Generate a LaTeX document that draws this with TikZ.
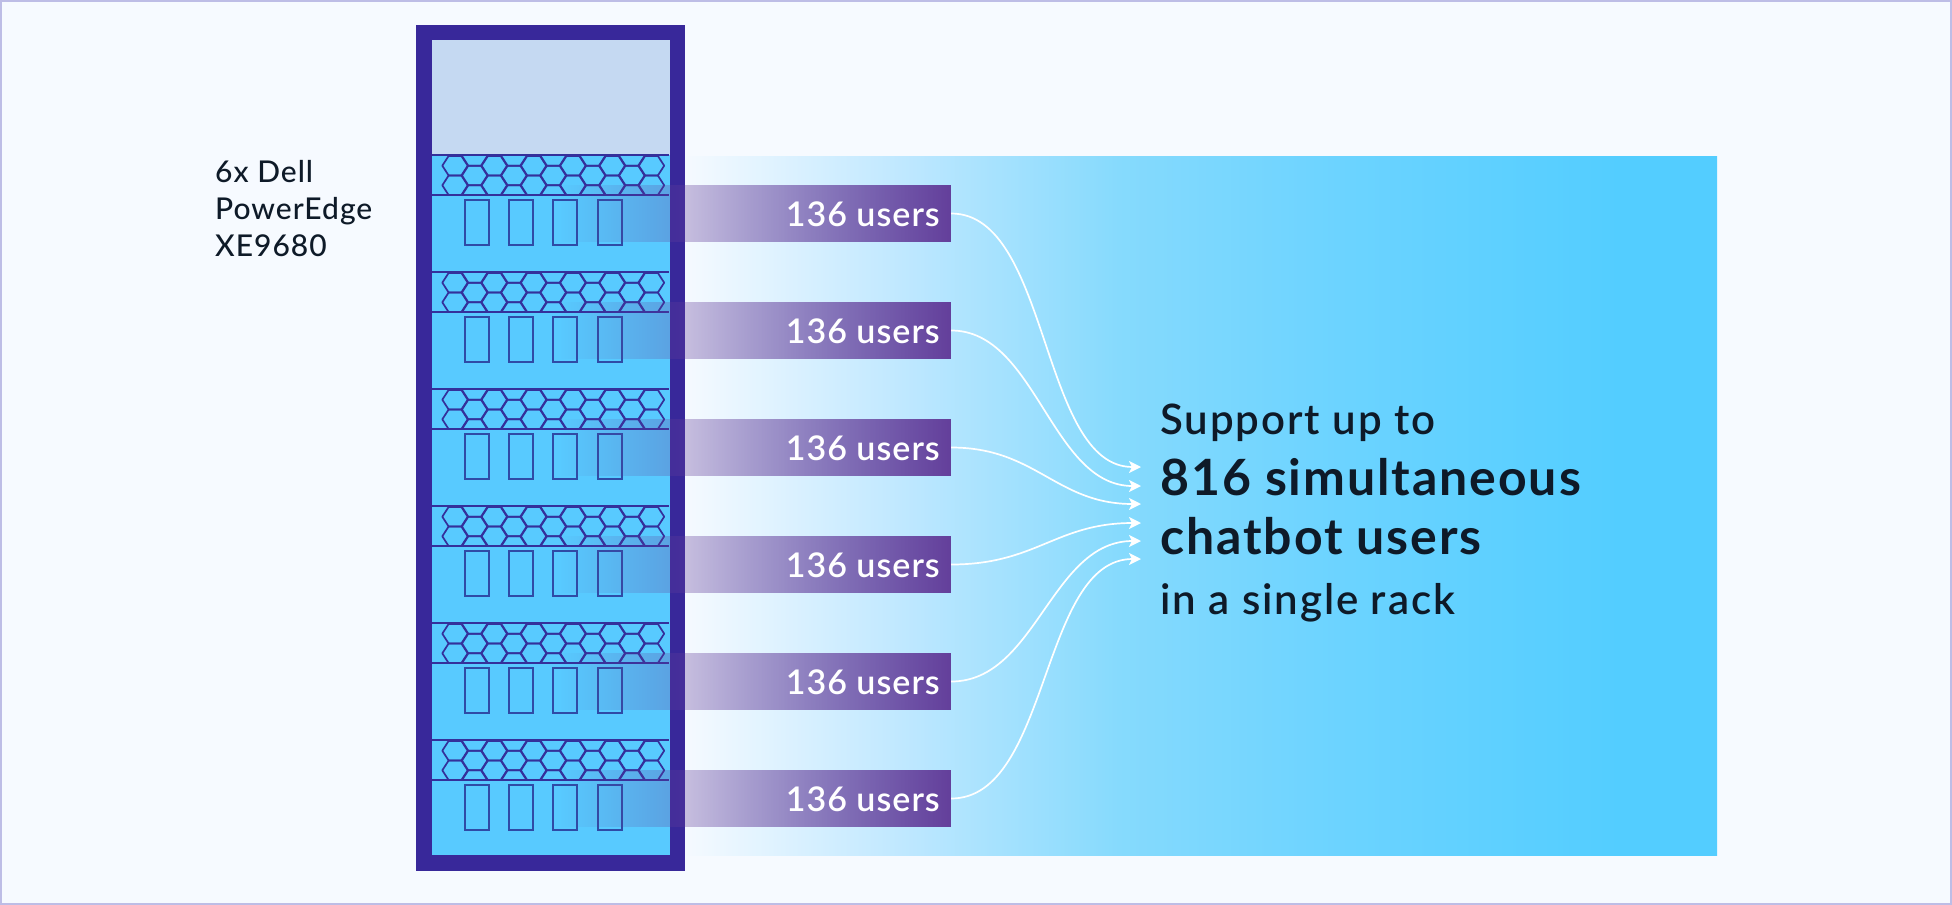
\documentclass[tikz,border=0pt]{standalone}
\usepackage{fontspec}
\setmainfont{Lato}
\newfontface\labfont{Lato Semibold}[LetterSpace=3]
\newfontface\sidefont{Lato Medium}[LetterSpace=3.3]
\newfontface\headfont{Lato Semibold}[LetterSpace=4.6]
\newfontface\labbold{Lato Bold}[LetterSpace=3.8]
\usetikzlibrary{arrows.meta,fadings,shadings}
\definecolor{pagebg}{HTML}{F6FAFF}
\definecolor{pageedge}{HTML}{BDBDE6}
\definecolor{frameblue}{HTML}{38289A}
\definecolor{rackblue}{HTML}{58CAFF}
\definecolor{toppanel}{HTML}{C5D9F2}
\definecolor{slotline}{HTML}{2F4BA6}
\definecolor{hexline}{HTML}{34309B}
\definecolor{barpurple}{HTML}{643F9B}
\definecolor{inktext}{HTML}{0E1A28}
\pgfdeclarehorizontalshading{bigglow}{100bp}{
  rgb(0bp)=(0.961,0.980,1);
  rgb(25bp)=(0.961,0.980,1);
  rgb(35.4bp)=(0.753,0.910,1);
  rgb(46bp)=(0.525,0.855,0.992);
  rgb(55.8bp)=(0.43,0.83,1);
  rgb(70.3bp)=(0.325,0.805,1);
  rgb(100bp)=(0.325,0.805,1)}
\tikzfading[name=barfade,left color=transparent!100,right color=transparent!0]
\tikzset{
  barbox/.style={rectangle,inner sep=0pt,minimum width=391pt,minimum height=57pt,fill=barpurple,path fading=barfade},
  barlabel/.style={anchor=base east,text=white,inner sep=0pt,font=\fontsize{34}{34}\labfont},
  flow/.style={draw=white,line width=1.7pt,-{Stealth[length=12pt,width=12pt,inset=3pt]}},
  sidelabel/.style={anchor=base west,inner sep=0pt,text=inktext,font=\fontsize{30}{30}\sidefont},
  bigplain/.style={anchor=base west,inner sep=0pt,text=inktext,font=\fontsize{42}{42}\headfont},
  bigbold/.style={anchor=base west,inner sep=0pt,text=inktext,font=\fontsize{50}{50}\labbold},
  slotbox/.style={draw=slotline,line width=1.7pt},
  hexcell/.style={draw=hexline,line width=1.7pt,line join=round},
}
\begin{document}
\begin{tikzpicture}[x=1pt,y=-1pt]
\useasboundingbox (0,0) rectangle (1952,905);
\fill[pagebg] (0,0) rectangle (1952,905);
\draw[pageedge,line width=2pt] (1,1) rectangle (1951,904);
% glow
\shade[shading=bigglow] (685,156) rectangle (1717,855);
% rack
\fill[frameblue] (416,25) rectangle (685,871);
\fill[rackblue] (431.5,40) rectangle (669.5,855);
\fill[toppanel] (431.5,40) rectangle (669.5,155);
\foreach \r in {0,...,5}{
  \begin{scope}[shift={(0,117*\r)}]
    \begin{scope}
      \clip (432,155) rectangle (669,195);
      \foreach \k in {0,2,...,10}{
        \foreach \c in {165.7,185.3}{
          \draw[hexcell] (455+19.65*\k-12.7,\c) -- ++(6.35,-9.8) -- ++(12.7,0) -- ++(6.35,9.8) -- ++(-6.35,9.8) -- ++(-12.7,0) -- cycle;
        }
      }
      \foreach \k in {1,3,...,9}{
        \foreach \c in {155.9,175.5,195.1}{
          \draw[hexcell] (455+19.65*\k-12.7,\c) -- ++(6.35,-9.8) -- ++(12.7,0) -- ++(6.35,9.8) -- ++(-6.35,9.8) -- ++(-12.7,0) -- cycle;
        }
      }
    \end{scope}
    \draw[hexline,line width=2pt] (432,155) -- (669,155);
    \draw[hexline,line width=1.7pt] (432,195) -- (669,195);
    \foreach \sx in {465,509,553,598}{
      \draw[slotbox] (\sx,200) rectangle (\sx+24,245);
    }
  \end{scope}
}
% bars
\foreach \r in {1,...,6}{
  \node[barbox] (bar\r) at (755.5,213.5+117*\r-117) {};
  \node[barlabel] (lab\r) at (940,226+117*\r-117) {136 users};
}
% targets
\coordinate (t1) at (1141,467);
\coordinate (t2) at (1141,486);
\coordinate (t3) at (1141,504);
\coordinate (t4) at (1141,523);
\coordinate (t5) at (1141,541);
\coordinate (t6) at (1141,559);
\draw[flow] (bar1.east) .. controls +(99,0) and +(-101,0) .. (t1);
\draw[flow] (bar2.east) .. controls +(85,0) and +(-90,0) .. (t2);
\draw[flow] (bar3.east) .. controls +(85,0) and +(-85,0) .. (t3);
\draw[flow] (bar4.east) .. controls +(85,0) and +(-85,0) .. (t4);
\draw[flow] (bar5.east) .. controls +(85,0) and +(-90,0) .. (t5);
\draw[flow] (bar6.east) .. controls +(99,0) and +(-101,0) .. (t6);
% side label
\node[sidelabel] (s1) at (215,182) {6x Dell};
\node[sidelabel] (s2) at (215,219) {PowerEdge};
\node[sidelabel] (s3) at (215,256) {XE9680};
% headline
\node[bigplain] (h1) at (1160,434) {Support up to};
\node[bigbold] (h2) at (1160,495) {816 simultaneous};
\node[bigbold] (h3) at (1160,554) {chatbot users};
\node[bigplain] (h4) at (1160,614) {in a single rack};
\end{tikzpicture}
\end{document}
